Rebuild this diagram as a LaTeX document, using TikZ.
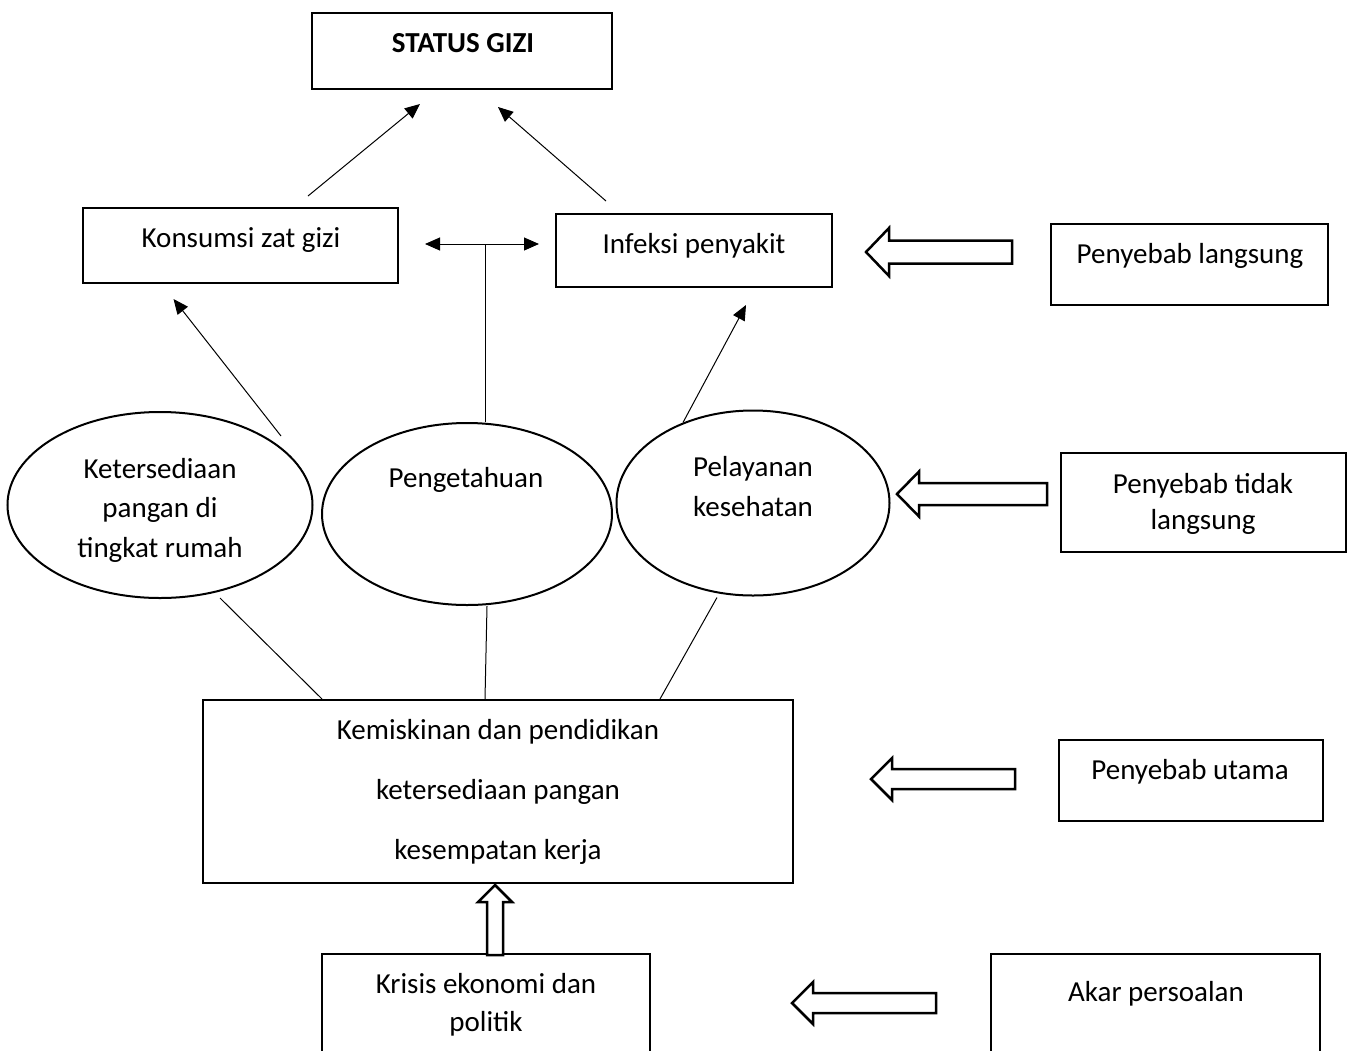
\documentclass[tikz,border=0pt]{standalone}
\usepackage{fontspec}
\setmainfont{Carlito}
\usetikzlibrary{shapes.geometric,arrows.meta,calc}

\begin{document}
\begin{tikzpicture}[x=1pt, y=-1pt,
    box/.style={draw, line width=2pt, inner sep=0pt},
    oval/.style={draw, ellipse, line width=2pt, inner sep=0pt},
    txt/.style={inner sep=0pt, anchor=base, align=center, font=\fontsize{29}{39.5}\selectfont},
    arr/.style={line width=1pt, -{Triangle[length=15pt,width=13pt]}},
    dbl/.style={line width=1pt, {Triangle[length=15pt,width=13pt]}-{Triangle[length=15pt,width=13pt]}},
    lin/.style={line width=1pt},
    hollow/.style={draw, line width=2.5pt, line join=miter, fill=white}]
  \useasboundingbox (0,0) rectangle (1355,1050);
  \clip (0,0) rectangle (1355,1050);
  \fill[white] (0,0) rectangle (1355,1050);

  % boxes and ovals
  \node[box, minimum width=300pt, minimum height=76pt] (gizi) at (462,51) {};
  \node[box, minimum width=315pt, minimum height=75pt] (konsumsi) at (240.5,245.5) {};
  \node[box, minimum width=276pt, minimum height=73pt] (infeksi) at (694,250.5) {};
  \node[box, minimum width=277pt, minimum height=81pt] (langsung) at (1189.5,264.5) {};
  \node[oval, minimum width=305pt, minimum height=186pt] (pangan) at (160,505) {};
  \node[oval, minimum width=290pt, minimum height=182pt] (peng) at (467,514) {};
  \node[oval, minimum width=273pt, minimum height=185pt] (pelayanan) at (753,503) {};
  \node[box, minimum width=285pt, minimum height=99pt] (tidak) at (1203.5,502.5) {};
  \node[box, minimum width=590pt, minimum height=183pt] (kemis) at (498,791.5) {};
  \node[box, minimum width=264pt, minimum height=81pt] (utama) at (1191,780.5) {};
  \node[box, minimum width=328pt, minimum height=146pt] (krisis) at (486,1027) {};
  \node[box, minimum width=329pt, minimum height=146pt] (akar) at (1155.5,1027) {};

  % texts (base = last line)
  \node[txt] (gizit) at (463,52) {\bfseries STATUS GIZI};
  \node[txt] (konsumsit) at (241,247) {Konsumsi zat gizi};
  \node[txt] (infeksit) at (694,253) {Infeksi penyakit};
  \node[txt] (langsungt) at (1190,263) {Penyebab langsung};
  \node[txt] (pangant) at (160,557) {Ketersediaan\\pangan di\\tingkat rumah};
  \node[txt] (pengt) at (466,487) {Pengetahuan};
  \node[txt] (pelayanant) at (753,516) {Pelayanan\\kesehatan};
  \node[txt] (tidakt) at (1203,529) {Penyebab tidak\\[-4pt]langsung};
  \node[txt] (kemist) at (498,859) {Kemiskinan dan pendidikan\\[20.5pt]ketersediaan pangan\\[20.5pt]kesempatan kerja};
  \node[txt] (utamat) at (1190,779) {Penyebab utama};
  \node[txt] (krisist) at (486,1031) {Krisis ekonomi dan\\[-1.5pt]politik};
  \node[txt] (akart) at (1156,1001) {Akar persoalan};

  % connectors
  \draw[arr] ($(konsumsi.north)+(67.5,-11)$) -- ($(gizi.south)+(-42,14)$);
  \draw[arr] ($(infeksi.north)+(-88,-12)$) -- ($(gizi.south)+(36,17)$);
  \draw[dbl] ($(konsumsi.east)+(26,-1.5)$) -- coordinate[pos=0.53] (tee) ($(konsumsi.east)+(140,-1.5)$);
  \draw[lin] (tee) -- (tee |- peng.north);
  \draw[arr] ($(pangan.north)+(121,25)$) -- ($(konsumsi.south)+(-67,15)$);
  \draw[arr] ($(pelayanan.north)+(-70,13)$) -- ($(infeksi.south)+(52,17)$);
  \draw[lin] ($(pangan.south)+(60,-1)$) -- ($(kemis.north)+(-176,0)$);
  \draw[lin] ($(peng.south)+(20,0)$) -- ($(kemis.north)+(-13,0)$);
  \draw[lin] ($(pelayanan.south)+(-36,1)$) -- ($(kemis.north)+(162,0)$);
  \draw[hollow] ($(kemis.south)+(-3,1)$) -- ++(17,17) -- ++(-9,0) -- ++(0,53) -- ++(-16,0) -- ++(0,-53) -- ++(-9,0) -- cycle;

  % hollow arrows
  \draw[hollow] (866,252) -- ++(23,-24) -- ++(0,12.5) -- ++(123,0) -- ++(0,23) -- ++(-123,0) -- ++(0,12.5) -- cycle;
  \draw[hollow] (897,494) -- ++(22,-22.5) -- ++(0,11.5) -- ++(128,0) -- ++(0,22) -- ++(-128,0) -- ++(0,11.5) -- cycle;
  \draw[hollow] (871,779) -- ++(21,-21) -- ++(0,11) -- ++(123,0) -- ++(0,20) -- ++(-123,0) -- ++(0,11) -- cycle;
  \draw[hollow] (792,1003) -- ++(21,-21) -- ++(0,11) -- ++(123,0) -- ++(0,20) -- ++(-123,0) -- ++(0,11) -- cycle;
\end{tikzpicture}
\end{document}
